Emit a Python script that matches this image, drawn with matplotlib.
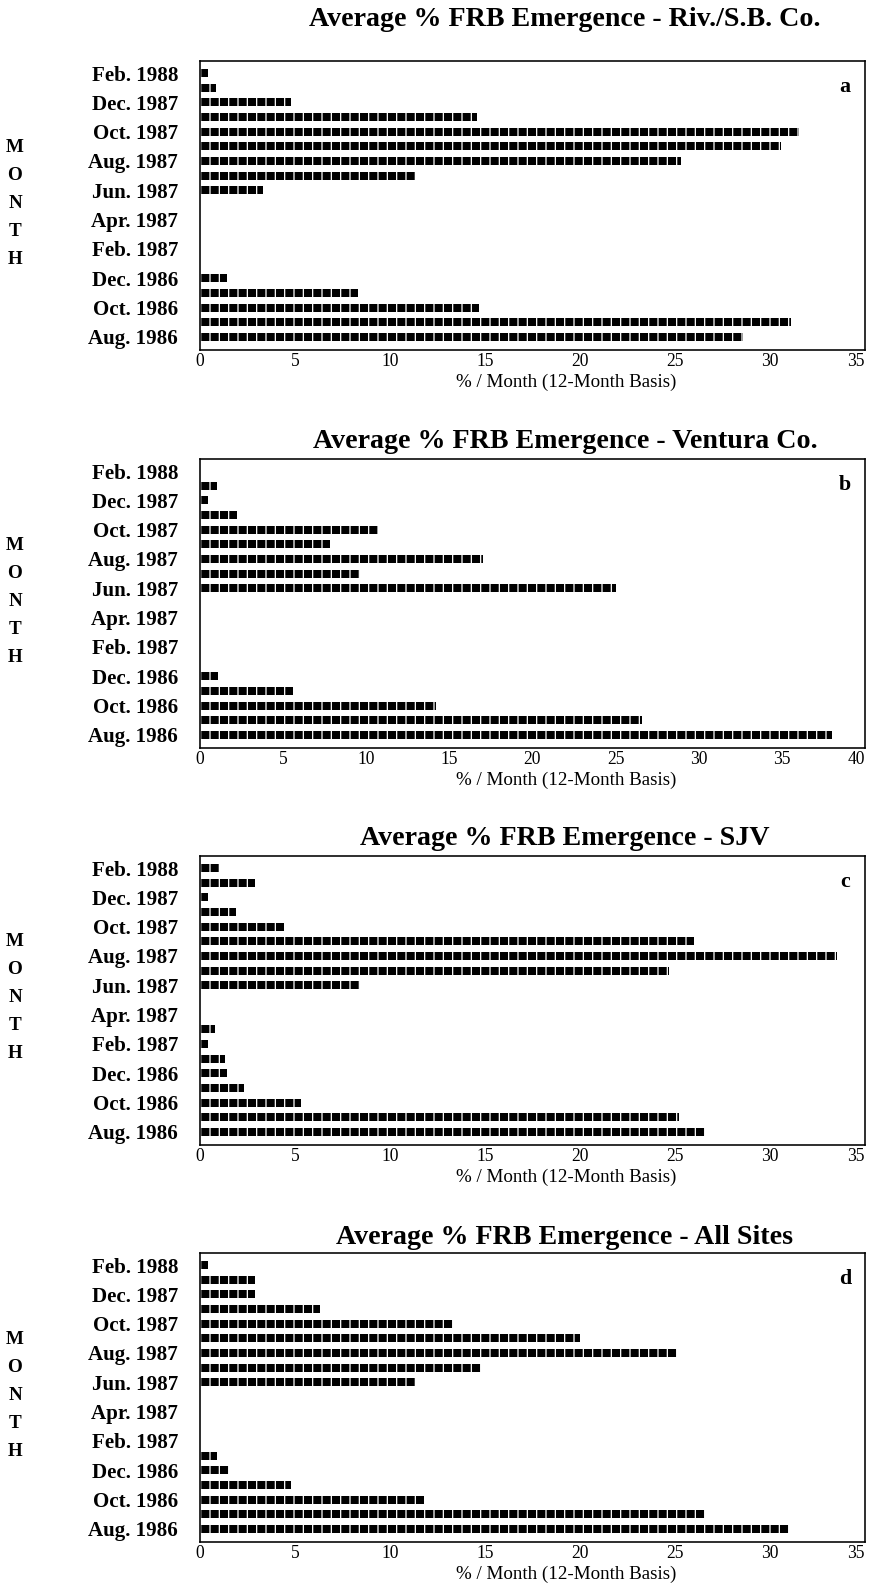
import matplotlib
matplotlib.use('Agg')
import matplotlib.pyplot as plt
import numpy as np

DPI = 112

# months from bottom (Aug. 1986) to top (Feb. 1988)
months = ['Aug. 1986', 'Sep. 1986', 'Oct. 1986', 'Nov. 1986', 'Dec. 1986',
          'Jan. 1987', 'Feb. 1987', 'Mar. 1987', 'Apr. 1987', 'May 1987',
          'Jun. 1987', 'Jul. 1987', 'Aug. 1987', 'Sep. 1987', 'Oct. 1987',
          'Nov. 1987', 'Dec. 1987', 'Jan. 1988', 'Feb. 1988']

riv_sb = [28.6, 31.1, 14.7, 8.3, 1.4, 0, 0, 0, 0, 0,
          3.3, 11.3, 25.3, 30.6, 31.5, 14.6, 4.8, 0.85, 0.4]
ventura = [38.0, 26.6, 14.2, 5.6, 1.1, 0, 0, 0, 0, 0,
           25.0, 9.6, 17.0, 7.8, 10.7, 2.2, 0.5, 1.0, 0]
sjv = [26.6, 25.2, 5.3, 2.3, 1.4, 1.3, 0.4, 0.8, 0, 0,
       8.4, 24.7, 33.5, 26.0, 4.4, 1.9, 0.4, 2.9, 1.0]
all_sites = [31.0, 26.6, 11.8, 4.8, 1.5, 0.9, 0, 0, 0, 0,
             11.3, 14.8, 25.1, 20.0, 13.3, 6.3, 2.9, 2.9, 0.4]

series = [riv_sb, ventura, sjv, all_sites]
titles = ['Average % FRB Emergence - Riv./S.B. Co.',
          'Average % FRB Emergence - Ventura Co.',
          'Average % FRB Emergence - SJV',
          'Average % FRB Emergence - All Sites']
letters = ['a', 'b', 'c', 'd']
x_max = [35, 40, 35, 35]


def pt(px):
    """pixel size -> points at the figure dpi"""
    return px * 72.0 / DPI


plt.rcParams['font.family'] = ['Liberation Serif', 'DejaVu Serif']
plt.rcParams['hatch.linewidth'] = 0.8
plt.rcParams['hatch.color'] = 'white'

W, H = 870, 1593
fig = plt.figure(figsize=(W / DPI, H / DPI), dpi=DPI)

# layout in pixels
tops = [61, 459, 856, 1253]
title_gap = [41, 18, 18, 16]
AX_L, AX_W, AX_H = 200, 665, 289

y = np.arange(len(months))
for k, vals in enumerate(series):
    top = tops[k]
    ax = fig.add_axes([AX_L / W, 1 - (top + AX_H) / H, AX_W / W, AX_H / H])
    ax.barh(y, vals, height=0.55, color='black', edgecolor='white',
            linewidth=0, hatch='||')
    ax.set_xlim(0, x_max[k])
    ax.set_ylim(-0.89, 18.82)
    ax.set_xticks(np.arange(0, x_max[k] + 1, 5))
    ax.set_yticks(y[::2])
    ax.set_yticklabels(months[::2], fontweight='bold')
    ax.tick_params(axis='y', length=0, pad=pt(22), labelsize=pt(21))
    ax.tick_params(axis='x', length=0, pad=pt(3), labelsize=pt(17.5))
    # last tick label sits flush with the right edge, as in the print
    ax.get_xticklabels()[-1].set_horizontalalignment('right')
    for s in ax.spines.values():
        s.set_linewidth(pt(1.6))

    ax.text((566 - AX_L) / AX_W, -32 / AX_H, '% / Month (12-Month Basis)',
            transform=ax.transAxes, ha='center', va='center', fontsize=pt(19))
    ax.text(0.97, 0.91, letters[k], transform=ax.transAxes, ha='center',
            va='center', fontsize=pt(22), fontweight='bold')
    for i, ch in enumerate('MONTH'):
        ax.text((15 - AX_L) / AX_W, 1 - (86 + 28 * i) / AX_H, ch,
                transform=ax.transAxes, ha='center', va='center',
                fontsize=pt(19), fontweight='bold')

    fig.text(565 / W, 1 - (top - title_gap[k]) / H, titles[k], ha='center',
             va='center', fontsize=pt(28), fontweight='bold')

fig.savefig('out.png', dpi=DPI)
